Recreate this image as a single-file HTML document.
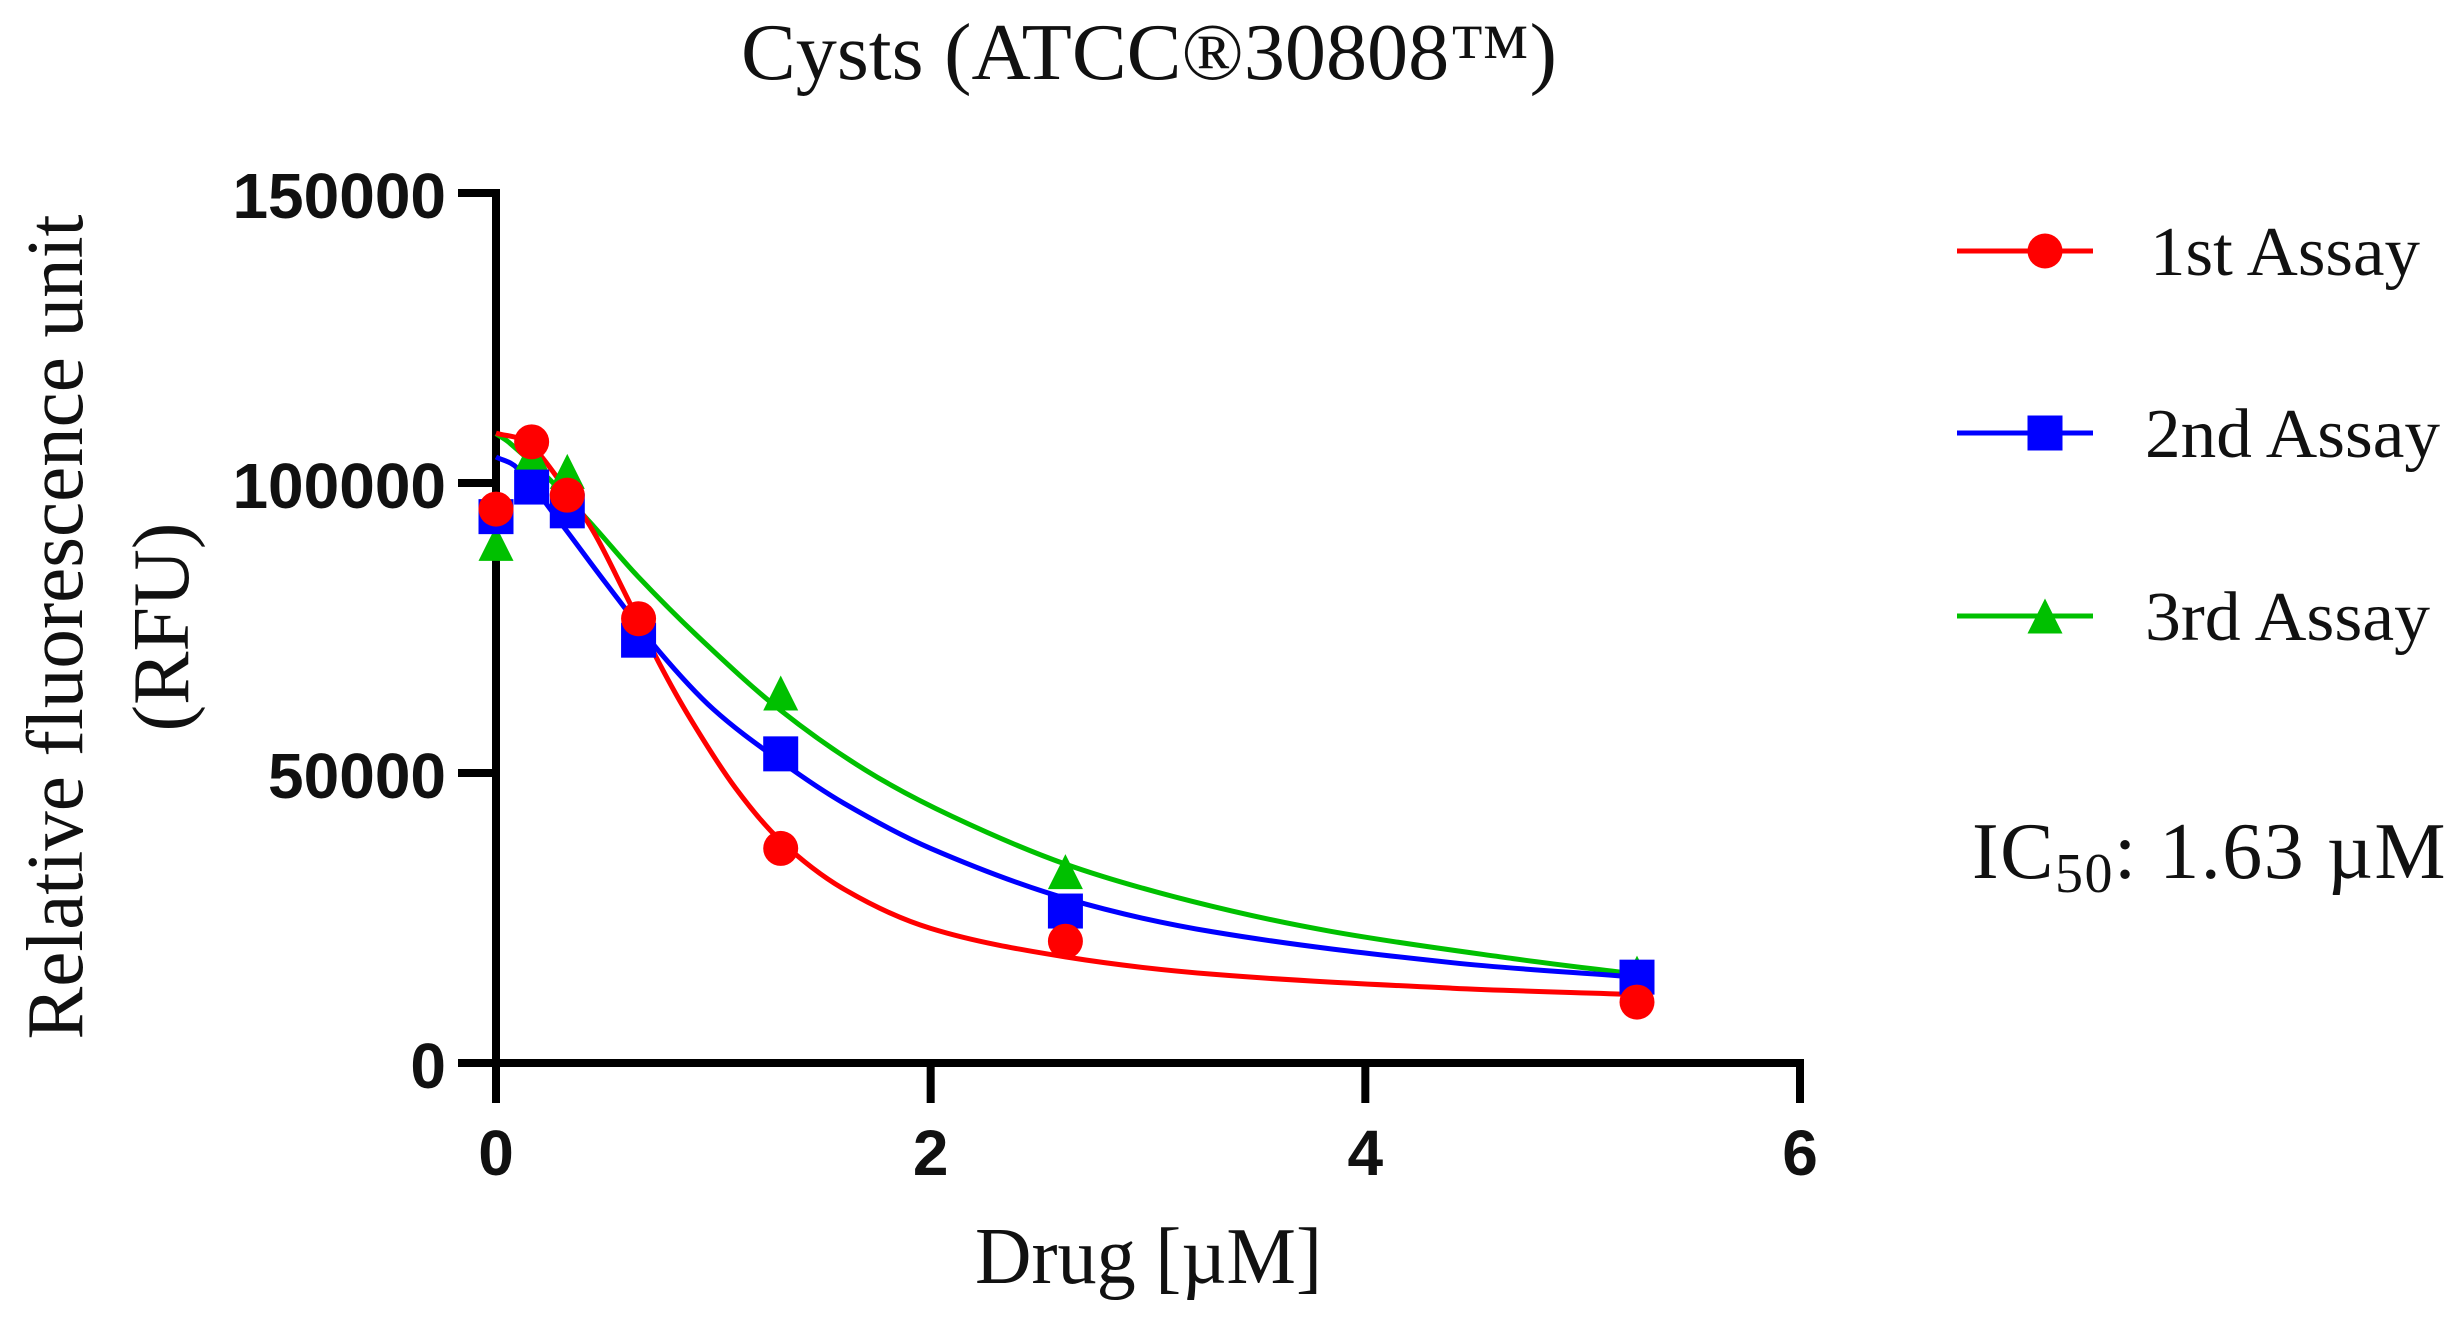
<!DOCTYPE html>
<html lang="en">
<head>
<meta charset="utf-8">
<title>Cysts (ATCC 30808) dose response</title>
<style>
html,body{margin:0;padding:0;background:#fff;width:2459px;height:1317px;overflow:hidden}
svg{display:block}
text{fill:#111}
.serif{font-family:"Liberation Serif",serif}
.sans{font-family:"Liberation Sans",sans-serif;font-weight:bold}
</style>
</head>
<body>
<svg id="chart" xmlns="http://www.w3.org/2000/svg" width="2459" height="1317" viewBox="0 0 2459 1317">
  <rect x="0" y="0" width="2459" height="1317" fill="#fff"/>
  <text class="serif" x="741" y="79" font-size="80" textLength="816" lengthAdjust="spacingAndGlyphs">Cysts (ATCC®30808™)</text>
  <text class="serif" x="0" y="0" font-size="80" text-anchor="middle" transform="translate(82 627) rotate(-90)" textLength="825" lengthAdjust="spacingAndGlyphs">Relative fluorescence unit</text>
  <text class="serif" x="0" y="0" font-size="80" text-anchor="middle" transform="translate(188 627) rotate(-90)">(RFU)</text>
  <text class="serif" x="975" y="1283" font-size="80" textLength="347" lengthAdjust="spacingAndGlyphs">Drug [µM]</text>
  <g id="axes"></g>
  <g id="series"></g>
  <g id="legend"></g>
  <text class="serif" x="1972" y="878" font-size="80" letter-spacing="1.5">IC<tspan font-size="56" dy="14">50</tspan><tspan dy="-14">: 1.63 µM</tspan></text>
</svg>
<script>
// Axis ticks
var yTicks = [0, 50000, 100000, 150000];
var xTicks = [0, 2, 4, 6];

// Measured data points
var doses = [0, 0.164, 0.328, 0.656, 1.31, 2.62, 5.25];
var assay1Values = [95500, 107100, 97900, 76600, 37000, 21000, 10500];
var assay2Values = [94200, 99300, 95200, 72900, 53300, 26200, 14800];
var assay3Values = [89600, 104800, 102000, 76000, 63800, 33000, 15500];

// Fitted curves
var fit1X = [0, 0.15, 0.3, 0.45, 0.6, 0.75, 0.9, 1.1, 1.31, 1.6, 2, 2.62, 3.3, 4.4, 5.25];
var fit1Y = [108600, 106800, 100000, 91500, 80500, 69000, 59000, 47500, 38300, 30000, 23200, 18300, 15300, 12900, 11800];
var fit2X = [0, 0.1, 0.3, 0.5, 0.75, 1, 1.31, 1.6, 2, 2.62, 3.3, 4.4, 5.25];
var fit2Y = [104500, 102500, 93000, 83000, 71000, 61000, 52000, 44800, 37000, 28400, 22600, 17300, 14800];
var fit3X = [0, 0.06, 0.25, 0.45, 0.65, 0.95, 1.31, 1.7, 2.1, 2.62, 3.2, 3.84, 4.68, 5.25];
var fit3Y = [108500, 107000, 100500, 92500, 84000, 72800, 60800, 50500, 42500, 34300, 27900, 22700, 18000, 15300];

// Legend names
var assayNames = ["1st Assay", "2nd Assay", "3rd Assay"];

var NS = "http://www.w3.org/2000/svg";
var plotLeft = 496, plotRight = 1800, plotTop = 193, plotBottom = 1063;
var xMax = 6, yMax = 150000;
function sx(v) { return plotLeft + (plotRight - plotLeft) * v / xMax; }
function sy(v) { return plotBottom - (plotBottom - plotTop) * v / yMax; }

function mk(parent, tag, attrs, txt) {
  var el = document.createElementNS(NS, tag);
  for (var k in attrs) el.setAttribute(k, attrs[k]);
  if (txt !== undefined) el.textContent = txt;
  parent.appendChild(el);
  return el;
}

function curvePath(xs, ys) {
  var p = xs.map(function (x, i) { return [sx(x), sy(ys[i])]; });
  var n = p.length;
  var slope = p.map(function (pt, i) {
    var a = p[Math.max(i - 1, 0)], b = p[Math.min(i + 1, n - 1)];
    return (b[1] - a[1]) / (b[0] - a[0]);
  });
  var d = "M" + p[0][0].toFixed(1) + " " + p[0][1].toFixed(1);
  for (var i = 0; i < n - 1; i++) {
    var h = (p[i + 1][0] - p[i][0]) / 3;
    d += "C" + (p[i][0] + h).toFixed(1) + " " + (p[i][1] + slope[i] * h).toFixed(1) + " " +
      (p[i + 1][0] - h).toFixed(1) + " " + (p[i + 1][1] - slope[i + 1] * h).toFixed(1) + " " +
      p[i + 1][0].toFixed(1) + " " + p[i + 1][1].toFixed(1);
  }
  return d;
}

function marker(parent, shape, cx, cy, color) {
  if (shape === "circle") return mk(parent, "circle", { cx: cx, cy: cy, r: 17.5, fill: color });
  if (shape === "square") return mk(parent, "rect", { x: cx - 17.5, y: cy - 17.5, width: 35, height: 35, fill: color });
  return mk(parent, "polygon", {
    points: (cx - 17.5) + "," + (cy + 17.5) + " " + (cx + 17.5) + "," + (cy + 17.5) + " " + cx + "," + (cy - 17.5),
    fill: color
  });
}

// Axes
var axes = document.getElementById("axes");
var yLine = mk(axes, "line", { x1: plotLeft, x2: plotLeft, y1: sy(yMax) - 4, y2: plotBottom + 4, stroke: "#000", "stroke-width": 8 });


var xLine = mk(axes, "line", { x1: plotLeft - 38, x2: sx(xMax) + 4, y1: plotBottom, y2: plotBottom, stroke: "#000", "stroke-width": 8 });



yTicks.forEach(function (t) {
  var tick = mk(axes, "line", { x1: plotLeft - 38, x2: plotLeft, y1: sy(t), y2: sy(t), stroke: "#000", "stroke-width": 8 });
  
  
  var lab = mk(axes, "text", { x: 446, y: sy(t) + 25, "font-size": 64, "text-anchor": "end", "class": "sans" }, String(t));
  
  
});
xTicks.forEach(function (t) {
  var tick = mk(axes, "line", { x1: sx(t), x2: sx(t), y1: plotBottom, y2: plotBottom + 40, stroke: "#000", "stroke-width": 8 });
  
  
  var lab = mk(axes, "text", { x: sx(t), y: 1175, "font-size": 64, "text-anchor": "middle", "class": "sans" }, String(t));
  
  
});

// Series, drawn so that red sits on top of blue, and blue on top of green
var seriesGroup = document.getElementById("series");
var seriesDefs = [
  { key: "assay-3", color: "#00c000", shape: "triangle", values: assay3Values, fx: fit3X, fy: fit3Y },
  { key: "assay-2", color: "#0000ff", shape: "square", values: assay2Values, fx: fit2X, fy: fit2Y },
  { key: "assay-1", color: "#ff0000", shape: "circle", values: assay1Values, fx: fit1X, fy: fit1Y }
];
seriesDefs.forEach(function (s) {
  var path = mk(seriesGroup, "path", { d: curvePath(s.fx, s.fy), fill: "none", stroke: s.color, "stroke-width": 5 });
  
  
});
seriesDefs.forEach(function (s) {
  s.values.forEach(function (v, i) {
    var m = marker(seriesGroup, s.shape, sx(doses[i]), sy(v), s.color);
    
    
  });
});

// Legend
var legend = document.getElementById("legend");
var legendShapes = ["circle", "square", "triangle"];
var legendColors = ["#ff0000", "#0000ff", "#00c000"];
var legendRowY = [251, 433, 616];
var legendTextX = [2150, 2145, 2145];
var legendTextW = [270, 295, 285];
assayNames.forEach(function (name, i) {
  var ln = mk(legend, "line", { x1: 1957, x2: 2093, y1: legendRowY[i], y2: legendRowY[i], stroke: legendColors[i], "stroke-width": 5 });
  
  
  var m = marker(legend, legendShapes[i], 2045, legendRowY[i], legendColors[i]);
  
  
  var t = mk(legend, "text", { x: legendTextX[i], y: legendRowY[i] + 24, "font-size": 70, "class": "serif", textLength: legendTextW[i], lengthAdjust: "spacingAndGlyphs" }, name);
  
  
});
</script>
</body>
</html>
